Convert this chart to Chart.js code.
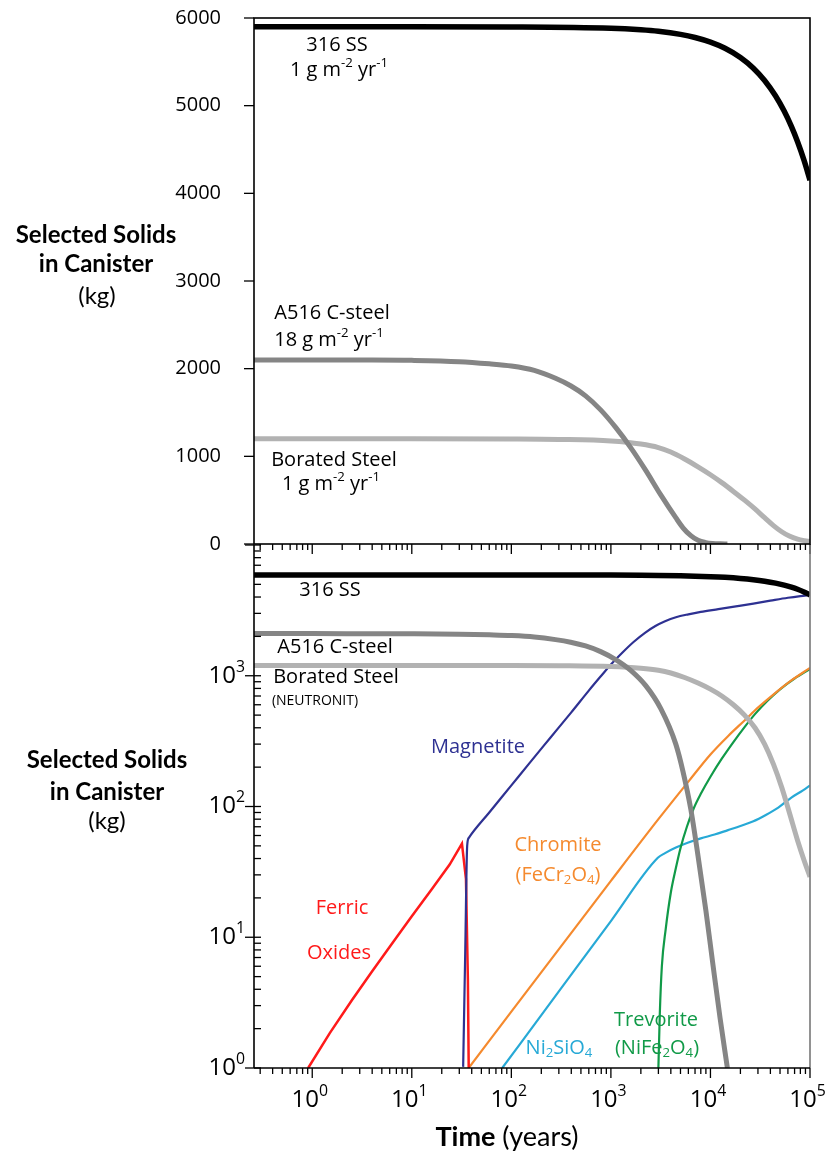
<!DOCTYPE html>
<html>
<head>
<meta charset="utf-8">
<script src="https://cdn.jsdelivr.net/npm/chart.js@4.4.1/dist/chart.umd.min.js"></script>
<style>
  body { margin: 0; background: #fff; }
  #wrap { position: relative; width: 826px; height: 1152px; }
  canvas { position: absolute; left: 0; top: 0; }
</style>
</head>
<body>
<div id="wrap">
  <canvas id="topChart" width="826" height="1152"></canvas>
  <canvas id="botChart" width="826" height="1152"></canvas>
</div>
<script>
// ---- data (years, kg) ----
const years316 = [0.26, 10, 100, 1000, 2000, 3000, 5000, 7000, 10000, 14000, 20000, 27000, 35000, 45000, 55000, 65000, 75000, 87000, 100000];
const kg316    = [5900, 5900, 5898, 5883, 5865, 5848, 5813, 5778, 5725, 5655, 5550, 5428, 5288, 5113, 4938, 4763, 4588, 4378, 4150];

const yearsA516 = [0.26, 1, 3, 10, 30, 60, 100, 170, 278, 394, 557, 789, 1117, 1581, 2239, 3170, 4487, 5300, 6353, 7500, 9000, 10500, 12500, 14800];
const kgA516    = [2100, 2100, 2099, 2095, 2080, 2055, 2030, 1980, 1890, 1805, 1690, 1530, 1330, 1100, 840, 560, 300, 185, 95, 42, 16, 6.5, 2.4, 1];

const yearsBor = [0.26, 10, 100, 300, 1000, 2000, 3000, 4000, 5500, 7500, 10000, 13000, 17000, 22000, 28000, 35000, 43000, 52000, 62000, 75000, 88000, 100000];
const kgBor    = [1200, 1200, 1198, 1193, 1175, 1140, 1100, 1050, 970, 880, 790, 700, 600, 500, 400, 300, 210, 140, 90, 55, 38, 29];

const yearsMag = [32.8, 34.4, 36, 37.4, 60, 100, 150, 250, 400, 600, 800, 1000, 1300, 1700, 2200, 2800, 3500, 4500, 6000, 8000, 12000, 18000, 27000, 40000, 60000, 80000, 100000];
const kgMag    = [1.02, 7.5, 50, 57.6, 90, 145, 212, 340, 525, 770, 1000, 1220, 1500, 1820, 2130, 2400, 2610, 2800, 2950, 3080, 3230, 3390, 3560, 3750, 3950, 4070, 4150];

const yearsFe = [0.91, 1.5, 2.5, 4, 6.5, 10, 16, 24, 31.9, 35, 36.6, 37.3];
const kgFe    = [1, 1.85, 3.3, 5.5, 9.2, 14.5, 23.5, 36, 52, 28, 4.75, 1];

const yearsCr = [37.3, 100, 1000, 3000, 6000, 10000, 15000, 22000, 30000, 45000, 65000, 100000];
const kgCr    = [1, 2.7, 27, 80, 155, 250, 345, 455, 570, 740, 920, 1150];

const yearsNi = [81, 300, 1000, 2960, 3500, 4500, 6000, 8000, 11000, 15000, 20000, 27000, 36000, 48000, 65000, 85000, 100000];
const kgNi    = [1, 3.85, 13.3, 40.5, 44, 48.5, 53, 57, 61, 66, 71, 77, 86, 98, 117, 133, 145];

const yearsTr = [3000, 3100, 3250, 3550, 4000, 4500, 5000, 5800, 6800, 8000, 10000, 13000, 17000, 22000, 28000, 37000, 50000, 70000, 100000];
const kgTr    = [1, 2.6, 6, 11.5, 22, 34, 48, 70, 97, 125, 169, 232, 311, 405, 509, 639, 788, 953, 1127];

// axis ticks
const xTickVals = [1, 10, 100, 1000, 10000, 100000];
const xTickExp  = ['0', '1', '2', '3', '4', '5'];
const yTopTicks = [0, 1000, 2000, 3000, 4000, 5000, 6000];
const yLogVals  = [1, 10, 100, 1000];
const yLogExp   = ['0', '1', '2', '3'];

const FONT = '"Open Sans"';

function pts(xs, ys) {
  return xs.map((x, i) => ({x: x, y: ys[i]}));
}

function ds(label, xs, ys, color, width, straight) {
  return {
    label: label,
    data: pts(xs, ys),
    borderColor: color,
    borderWidth: width,
    pointRadius: 0,
    fill: false,
    tension: 0,
    cubicInterpolationMode: straight ? 'default' : 'monotone'
  };
}

// text with ^{sup}, _{sub} and *{bold} pieces
function rich(ctx, str, x, y, size, color, align, family, weight) {
  family = family || FONT;
  weight = weight || 'normal';
  let segs = str.split(/(\^\{[^}]*\}|_\{[^}]*\}|\*\{[^}]*\})/).filter(s => s).map(p => {
    if (p.startsWith('^{')) return {t: p.slice(2, -1), s: size * 0.66, dy: -size * 0.36, w8: weight};
    if (p.startsWith('_{')) return {t: p.slice(2, -1), s: size * 0.66, dy: size * 0.24, w8: weight};
    if (p.startsWith('*{')) return {t: p.slice(2, -1), s: size, dy: 0, w8: 'bold'};
    return {t: p, s: size, dy: 0, w8: weight};
  });
  let total = 0;
  segs.forEach(g => {
    ctx.font = g.w8 + ' ' + g.s + 'px ' + family;
    g.w = ctx.measureText(g.t).width;
    total += g.w;
  });
  let cx = align === 'right' ? x - total : (align === 'left' ? x : x - total / 2);
  ctx.fillStyle = color;
  ctx.textBaseline = 'middle';
  ctx.textAlign = 'left';
  segs.forEach(g => {
    ctx.font = g.w8 + ' ' + g.s + 'px ' + family;
    ctx.fillText(g.t, cx, y + g.dy);
    cx += g.w;
  });
}

function seg(ctx, x1, y1, x2, y2) {
  ctx.beginPath();
  ctx.moveTo(x1, y1);
  ctx.lineTo(x2, y2);
  ctx.stroke();
}

// log tick positions (1..9 per decade) inside the scale range
function logTicks(scale) {
  let out = [];
  for (let d = -1; d <= 5; d++) {
    for (let m = 1; m <= 9; m++) {
      let v = m * Math.pow(10, d);
      if (v >= scale.min * 0.999 && v <= scale.max * 1.001) out.push({v: v, major: m === 1});
    }
  }
  return out;
}

function xTickMarks(ctx, x, yEdge) {
  ctx.strokeStyle = '#000';
  ctx.lineWidth = 1.3;
  logTicks(x).forEach(t => {
    let px = x.getPixelForValue(t.v);
    seg(ctx, px, yEdge, px, yEdge + (t.major ? 10 : 6));
  });
}

const topLabels = [
  ['316 SS', 337, 45],
  ['1 g m^{-2} yr^{-1}', 339, 70],
  ['A516 C-steel', 332, 313],
  ['18 g m^{-2} yr^{-1}', 329, 340],
  ['Borated Steel', 334, 460],
  ['1 g m^{-2} yr^{-1}', 331, 484]
];

const botLabels = [
  ['316 SS', 330, 590, '#000', 20],
  ['A516 C-steel', 335, 647, '#000', 20],
  ['Borated Steel', 336, 677, '#000', 20],
  ['(NEUTRONIT)', 315, 701, '#000', 14],
  ['Magnetite', 478, 747, '#2e3192', 20],
  ['Chromite', 558, 845, '#f58a2e', 20],
  ['(FeCr_{2}O_{4})', 558, 875, '#f58a2e', 20],
  ['Ferric', 342, 908, '#ff1a1a', 20],
  ['Oxides', 339, 953, '#ff1a1a', 20],
  ['Ni_{2}SiO_{4}', 559, 1048, '#27a9d6', 20],
  ['Trevorite', 656, 1020, '#119a48', 20],
  ['(NiFe_{2}O_{4})', 657, 1048, '#119a48', 20]
];

function drawTop(chart) {
  const ctx = chart.ctx, a = chart.chartArea, x = chart.scales.x, y = chart.scales.y;
  ctx.save();
  ctx.strokeStyle = '#000';
  ctx.lineWidth = 1.6;
  ctx.strokeRect(a.left, a.top, a.right - a.left, a.bottom - a.top);
  ctx.lineWidth = 1.3;
  yTopTicks.forEach(v => {
    let py = y.getPixelForValue(v);
    seg(ctx, a.left - 10, py, a.left, py);
    rich(ctx, String(v), a.left - 33, py, 20, '#000', 'right');
  });
  xTickMarks(ctx, x, a.bottom);
  topLabels.forEach(l => rich(ctx, l[0], l[1], l[2], 20, '#000', 'center'));
  rich(ctx, 'Selected Solids', 96, 235, 24, '#000', 'center', 'Lato', 'bold');
  rich(ctx, 'in Canister', 96, 264, 24, '#000', 'center', 'Lato', 'bold');
  rich(ctx, '(kg)', 97, 296, 24, '#000', 'center', 'Lato');
  ctx.restore();
}

function drawBot(chart) {
  const ctx = chart.ctx, a = chart.chartArea, x = chart.scales.x, y = chart.scales.y;
  ctx.save();
  ctx.lineWidth = 1.6;
  ctx.strokeStyle = '#777';
  seg(ctx, a.right, a.top, a.right, a.bottom);
  ctx.strokeStyle = '#000';
  seg(ctx, a.left, a.top, a.left, a.bottom);
  seg(ctx, a.left, a.bottom, a.right, a.bottom);
  ctx.lineWidth = 1.3;
  logTicks(y).forEach(t => {
    let py = y.getPixelForValue(t.v);
    if (t.major) seg(ctx, a.left - 9, py, a.left + 7, py);
    else seg(ctx, a.left, py, a.left + 7, py);
  });
  yLogVals.forEach((v, i) => {
    rich(ctx, '10^{' + yLogExp[i] + '}', a.left - 9, y.getPixelForValue(v), 24, '#000', 'right');
  });
  xTickMarks(ctx, x, a.bottom);
  xTickVals.forEach((v, i) => {
    rich(ctx, '10^{' + xTickExp[i] + '}', x.getPixelForValue(v) - 2.5, 1100, 24, '#000', 'center');
  });
  botLabels.forEach(l => rich(ctx, l[0], l[1], l[2], l[4], l[3], 'center'));
  rich(ctx, 'Selected Solids', 107, 760, 24, '#000', 'center', 'Lato', 'bold');
  rich(ctx, 'in Canister', 107, 792, 24, '#000', 'center', 'Lato', 'bold');
  rich(ctx, '(kg)', 107, 821, 24, '#000', 'center', 'Lato');
  rich(ctx, '*{Time} (years)', 507, 1137, 27, '#000', 'center', 'Lato');
  ctx.restore();
}

const xScale = {type: 'logarithmic', min: 0.26, max: 100000, display: false};

new Chart(document.getElementById('topChart'), {
  type: 'line',
  data: {
    datasets: [
      ds('316 SS', years316, kg316, '#000', 5.5),
      ds('A516 C-steel', yearsA516, kgA516, '#858585', 5),
      ds('Borated Steel', yearsBor, kgBor, '#b2b2b2', 5)
    ]
  },
  options: {
    responsive: false,
    animation: false,
    devicePixelRatio: 1,
    layout: {padding: {left: 254, right: 16, top: 18, bottom: 608}},
    scales: {
      x: xScale,
      y: {type: 'linear', min: 0, max: 6000, display: false}
    },
    plugins: {legend: {display: false}, tooltip: {enabled: false}}
  },
  plugins: [{id: 'topDeco', afterDraw: drawTop}]
});

new Chart(document.getElementById('botChart'), {
  type: 'line',
  data: {
    datasets: [
      ds('316 SS', years316, kg316, '#000', 5.5),
      ds('A516 C-steel', yearsA516, kgA516, '#858585', 5),
      ds('Borated Steel', yearsBor, kgBor, '#b2b2b2', 5),
      ds('Magnetite', yearsMag, kgMag, '#2e3192', 2.2),
      ds('Ferric Oxides', yearsFe, kgFe, '#ff1a1a', 2.5, true),
      ds('Chromite', yearsCr, kgCr, '#f58a2e', 2.2),
      ds('Trevorite', yearsTr, kgTr, '#119a48', 2.2),
      ds('Ni2SiO4', yearsNi, kgNi, '#27a9d6', 2.2)
    ]
  },
  options: {
    responsive: false,
    animation: false,
    devicePixelRatio: 1,
    layout: {padding: {left: 254, right: 16, top: 545, bottom: 84}},
    scales: {
      x: xScale,
      y: {type: 'logarithmic', min: 1, max: 10000, display: false}
    },
    plugins: {legend: {display: false}, tooltip: {enabled: false}}
  },
  plugins: [{id: 'botDeco', afterDraw: drawBot}]
});
</script>
</body>
</html>
